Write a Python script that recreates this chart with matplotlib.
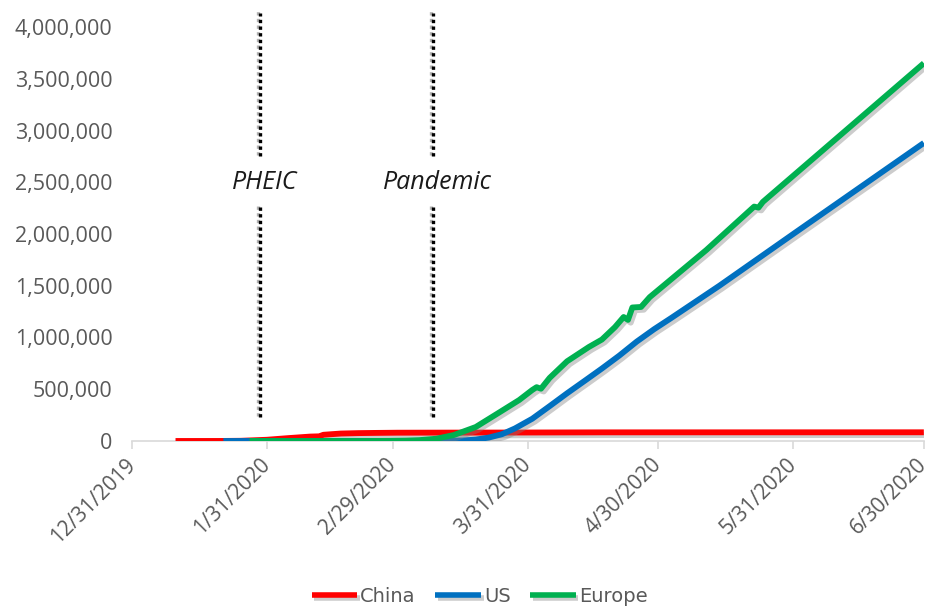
import numpy as np
import pandas as pd
import matplotlib
matplotlib.use("Agg")
import matplotlib.pyplot as plt
import matplotlib.patheffects as pe
from matplotlib.ticker import FuncFormatter

# Кумулятивные случаи
china_dates = ["2020-01-10", "2020-01-20", "2020-01-25", "2020-01-31", "2020-02-05",
               "2020-02-10", "2020-02-12", "2020-02-13", "2020-02-17", "2020-02-21",
               "2020-02-25", "2020-03-01", "2020-03-15", "2020-04-01", "2020-04-17",
               "2020-06-30"]
china_vals = [41, 300, 2000, 11800, 28000, 42700, 45000, 60000, 72000, 76000,
              78000, 80000, 81000, 82000, 83400, 84000]

us_dates = ["2020-01-21", "2020-02-15", "2020-03-01", "2020-03-08", "2020-03-12",
            "2020-03-16", "2020-03-19", "2020-03-22", "2020-03-25", "2020-03-28",
            "2020-04-01", "2020-04-05", "2020-04-09", "2020-04-13", "2020-04-17",
            "2020-04-21", "2020-04-25", "2020-04-29", "2020-05-03", "2020-05-14",
            "2020-06-01", "2020-06-30"]
us_vals = [1, 15, 75, 500, 1700, 4600, 13700, 33000, 65000, 121000,
           215000, 337000, 461000, 580000, 700000, 825000, 960000, 1080000,
           1190000, 1500000, 2030000, 2880000]

europe_dates = ["2020-01-27", "2020-02-20", "2020-02-24", "2020-02-28", "2020-03-03",
                "2020-03-06", "2020-03-10", "2020-03-14", "2020-03-19", "2020-03-24",
                "2020-03-29", "2020-04-01", "2020-04-02", "2020-04-03", "2020-04-05",
                "2020-04-09", "2020-04-14", "2020-04-17", "2020-04-20", "2020-04-22",
                "2020-04-23", "2020-04-24", "2020-04-26", "2020-04-28", "2020-05-11",
                "2020-05-22", "2020-05-23", "2020-05-24", "2020-06-30"]
europe_vals = [5, 50, 300, 1200, 3500, 8000, 22000, 58000, 135000, 265000,
               396000, 493000, 520000, 505000, 610000, 770000, 908000, 980000,
               1100000, 1198000, 1170000, 1290000, 1295000, 1390000, 1845000,
               2265000, 2255000, 2310000, 3650000]

# События (вертикальные пунктирные линии)
event_names = ["PHEIC", "Pandemic"]
event_dates = ["2020-01-29 10:00", "2020-03-09 05:00"]

tick_dates = ["2019-12-31", "2020-01-31", "2020-02-29", "2020-03-31",
              "2020-04-30", "2020-05-31", "2020-06-30"]

gray_txt = "#595959"
plt.rcParams["font.family"] = ["Open Sans", "DejaVu Sans"]

fig = plt.figure(figsize=(9.31, 6.07), dpi=100)
ax = fig.add_axes([0.1418, 0.2735, 0.8505, 0.682])

shadow = [pe.SimpleLineShadow(offset=(2, -2), shadow_color="gray", alpha=0.4), pe.Normal()]

series = [("China", china_dates, china_vals, "#FF0000"),
          ("US", us_dates, us_vals, "#0070C0"),
          ("Europe", europe_dates, europe_vals, "#00B050")]
for i, (name, d, v, c) in enumerate(series):
    ax.plot(pd.to_datetime(d), v, color=c, lw=4.2, label=name,
            solid_capstyle="butt", solid_joinstyle="round",
            path_effects=shadow, zorder=3 + i)

# Пунктирные линии событий с подписью посередине
dot_fx = [pe.SimpleLineShadow(offset=(-1.5, 1), shadow_color="gray", alpha=0.6), pe.Normal()]
for name, d in zip(event_names, event_dates):
    x = pd.Timestamp(d)
    ax.plot([x, x], [2750000, 4140000], color="black", lw=2.4, ls=(0, (1, 1)),
            clip_on=False, path_effects=dot_fx, zorder=2)
    ax.plot([x, x], [232000, 2270000], color="black", lw=2.4, ls=(0, (1, 1)),
            clip_on=False, path_effects=dot_fx, zorder=2)
    ax.text(x + pd.Timedelta(days=1), 2495000, name, style="italic", fontsize=18,
            ha="center", va="center", color="#1a1a1a")

ax.set_xlim(pd.Timestamp("2019-12-31"), pd.Timestamp("2020-06-30"))
ax.set_ylim(0, 4000000)
ax.set_yticks(np.arange(0, 4000001, 500000))
ax.yaxis.set_major_formatter(FuncFormatter(lambda v, p: f"{int(v):,}"))

ticks = pd.to_datetime(tick_dates)
ax.set_xticks(ticks)
ax.set_xticklabels([f"{t.month}/{t.day}/{t.year}" for t in ticks],
                   rotation=45, ha="right", va="center", rotation_mode="anchor")

for s in ["top", "right", "left"]:
    ax.spines[s].set_visible(False)
ax.spines["bottom"].set_color("#d9d9d9")
ax.spines["bottom"].set_linewidth(1.2)
ax.tick_params(axis="y", length=0, pad=14, labelsize=15.5, labelcolor=gray_txt)
ax.tick_params(axis="x", length=6, color="#d9d9d9", width=1.2, pad=9,
               labelsize=15, labelcolor=gray_txt)

leg = fig.legend(loc="lower center", bbox_to_anchor=(0.515, -0.027), ncol=3,
                 frameon=False, handlelength=2.35, handletextpad=0.15,
                 columnspacing=1.0,
                 prop={"family": ["Liberation Sans Narrow", "DejaVu Sans"], "size": 14})
for t in leg.get_texts():
    t.set_color(gray_txt)
for h in leg.get_lines():
    h.set_linewidth(4)

fig.savefig("out.png", dpi=100)
